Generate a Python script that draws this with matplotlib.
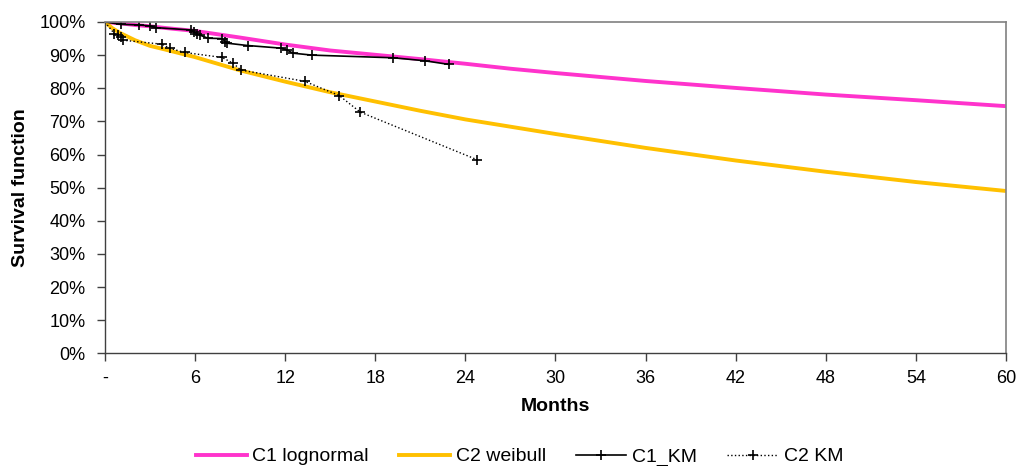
import matplotlib
matplotlib.use('Agg')
import matplotlib.pyplot as plt
from matplotlib.ticker import FuncFormatter

plt.rcParams['font.family'] = ['Liberation Sans', 'DejaVu Sans']

# fitted curves (months, survival)
fit_months = [0, 0.5, 1, 2, 3, 4, 6, 9, 12, 15, 18, 21, 24, 27, 30, 36, 42, 48, 54, 60]
c1_lognormal = [1.0, 0.998, 0.996, 0.991, 0.987, 0.982, 0.973, 0.953, 0.932, 0.914,
                0.901, 0.888, 0.874, 0.859, 0.846, 0.822, 0.801, 0.781, 0.764, 0.746]
c2_weibull = [1.0, 0.981, 0.967, 0.945, 0.928, 0.917, 0.894, 0.854, 0.820, 0.788,
              0.760, 0.732, 0.706, 0.684, 0.662, 0.620, 0.582, 0.548, 0.517, 0.490]

# Kaplan-Meier estimates
c1_km_months = [0, 1.06, 2.3, 3.0, 3.4, 5.7, 5.9, 6.1, 6.3, 6.85, 7.8, 8.0, 8.15, 9.5,
                11.75, 12.15, 12.5, 13.8, 19.2, 21.3, 22.9]
c1_km = [1.0, 0.993, 0.991, 0.988, 0.983, 0.976, 0.971, 0.965, 0.961, 0.951, 0.950,
         0.941, 0.936, 0.929, 0.921, 0.915, 0.906, 0.900, 0.892, 0.883, 0.872]
c2_km_months = [0, 0.62, 0.88, 1.06, 1.2, 3.8, 4.3, 5.3, 7.8, 8.55, 9.05, 13.3, 15.6, 17.0, 24.8]
c2_km = [1.0, 0.965, 0.961, 0.955, 0.945, 0.933, 0.921, 0.908, 0.893, 0.875, 0.855,
         0.821, 0.778, 0.728, 0.584]

x_ticks = list(range(0, 61, 6))
y_ticks = [i / 10 for i in range(11)]

fig = plt.figure(figsize=(10.29, 4.66), dpi=100)
ax = fig.add_axes([0.102, 0.2418, 0.8756, 0.711])

ax.plot(fit_months, c1_lognormal, color='#FF33CC', lw=2.8, label='C1 lognormal')
ax.plot(fit_months, c2_weibull, color='#FFC000', lw=2.8, label='C2 weibull')
ax.plot(c1_km_months, c1_km, color='black', lw=1.2, marker='+', ms=7.5, mew=1.2, label='C1_KM')
ax.plot(c2_km_months, c2_km, color='black', lw=1.0, ls=':', marker='+', ms=7.5, mew=1.2, label='C2 KM')

ax.set_xlim(0, 60)
ax.set_ylim(0, 1)
ax.set_xticks(x_ticks)
ax.set_yticks(y_ticks)
ax.xaxis.set_major_formatter(FuncFormatter(lambda v, p: '-' if v == 0 else '%d' % v))
ax.yaxis.set_major_formatter(FuncFormatter(lambda v, p: '%d%%' % round(v * 100)))
ax.tick_params(axis='both', direction='out', length=6, width=1, labelsize=13, color='#404040')
ax.tick_params(axis='x', pad=6)
ax.tick_params(axis='y', pad=8)

for s in ['top', 'right']:
    ax.spines[s].set_color('#808080')
    ax.spines[s].set_linewidth(1.2)
for s in ['left', 'bottom']:
    ax.spines[s].set_color('#404040')
    ax.spines[s].set_linewidth(1.0)

ax.set_xlabel('Months', fontsize=14, fontweight='bold')
ax.set_ylabel('Survival function', fontsize=14, fontweight='bold')
ax.xaxis.set_label_coords(0.5, -0.135)
ax.yaxis.set_label_coords(-0.0844, 0.5)

fig.legend(loc='center', bbox_to_anchor=(0.505, 0.02), ncol=4, frameon=False,
           fontsize=14, handlelength=2.6, columnspacing=1.55, handletextpad=0.3)

fig.savefig('out.png', dpi=100)
